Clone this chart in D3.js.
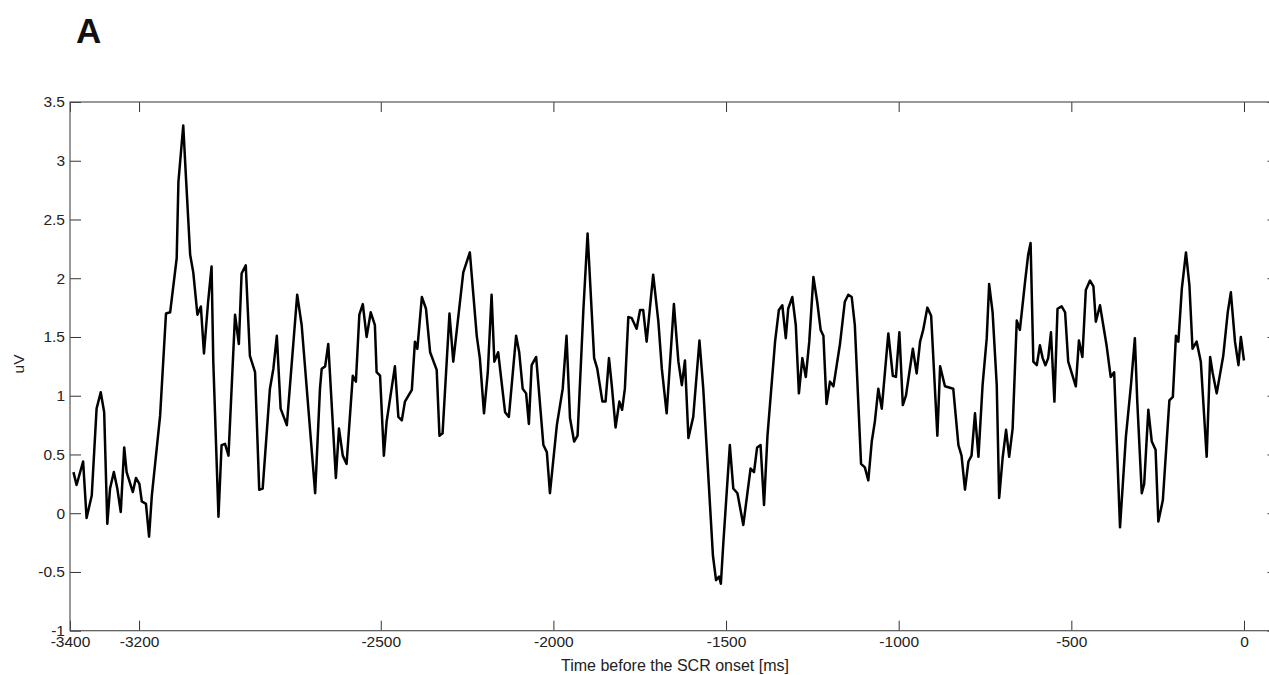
<!DOCTYPE html>
<html>
<head>
<meta charset="utf-8">
<script src="https://cdn.jsdelivr.net/npm/d3@7"></script>
<style>
  body { margin: 0; background: #fff; }
  svg { display: block; font-family: "Liberation Sans", Arial, sans-serif; }
</style>
</head>
<body>
<script>
// chart size
var w = 1269;
var h = 675;

// time (ms before SCR onset) and mean amplitude (uV)
var times = [
  -3390, -3381, -3362, -3352, -3337, -3323, -3311, -3301, -3292, -3284,
  -3273, -3263, -3253, -3243, -3236, -3218, -3209, -3199, -3192, -3180,
  -3171, -3163, -3139, -3122, -3110, -3091, -3086, -3072, -3064, -3052,
  -3043, -3031, -3021, -3012, -3000, -2990, -2985, -2970, -2961, -2951,
  -2941, -2922, -2911, -2903, -2891, -2879, -2864, -2852, -2842, -2821,
  -2811, -2801, -2790, -2772, -2742, -2729, -2690, -2676, -2671, -2661,
  -2652, -2630, -2621, -2610, -2599, -2581, -2572, -2562, -2552, -2541,
  -2529, -2517, -2512, -2502, -2491, -2483, -2459, -2449, -2439, -2430,
  -2410, -2401, -2394, -2381, -2369, -2357, -2338, -2330, -2321, -2301,
  -2290, -2261, -2242, -2222, -2213, -2201, -2190, -2179, -2171, -2160,
  -2140, -2129, -2108, -2099, -2089, -2079, -2071, -2063, -2050, -2029,
  -2019, -2010, -1990, -1973, -1962, -1952, -1940, -1930, -1913, -1901,
  -1889, -1882, -1873, -1858, -1849, -1839, -1831, -1820, -1809, -1801,
  -1793, -1783, -1773, -1759, -1749, -1740, -1730, -1711, -1696, -1686,
  -1672, -1651, -1638, -1628, -1619, -1609, -1595, -1577, -1566, -1538,
  -1529, -1520, -1515, -1508, -1489, -1479, -1467, -1450, -1429, -1419,
  -1410, -1400, -1390, -1380, -1358, -1347, -1337, -1327, -1320, -1308,
  -1298, -1289, -1279, -1269, -1259, -1247, -1236, -1226, -1218, -1209,
  -1199, -1189, -1170, -1156, -1146, -1136, -1127, -1109, -1098, -1088,
  -1078, -1069, -1059, -1049, -1030, -1017, -1008, -998, -988, -979,
  -959, -948, -938, -929, -917, -906, -888, -880, -866, -842,
  -827, -818, -808, -798, -789, -779, -769, -757, -745, -738,
  -728, -716, -709, -699, -689, -680, -670, -658, -649, -634,
  -625, -618, -610, -600, -591, -583, -575, -567, -559, -549,
  -540, -528, -518, -509, -487, -478, -468, -458, -446, -436,
  -429, -417, -398, -386, -376, -359, -342, -327, -316, -309,
  -296, -289, -277, -267, -256, -248, -235, -216, -206, -197,
  -190, -180, -168, -158, -149, -137, -125, -108, -98, -91,
  -79, -60, -47, -38, -26, -16, -9, 0
];

var amplitude = [
  0.35, 0.24, 0.44, -0.04, 0.15, 0.89, 1.03, 0.86, -0.09, 0.21,
  0.35, 0.21, 0.01, 0.56, 0.35, 0.18, 0.30, 0.25, 0.10, 0.08,
  -0.20, 0.15, 0.83, 1.70, 1.71, 2.17, 2.82, 3.30, 2.85, 2.20,
  2.05, 1.69, 1.76, 1.36, 1.80, 2.10, 1.29, -0.03, 0.58, 0.59,
  0.49, 1.69, 1.44, 2.04, 2.11, 1.34, 1.20, 0.20, 0.21, 1.06,
  1.23, 1.51, 0.89, 0.75, 1.86, 1.60, 0.17, 1.06, 1.23, 1.25,
  1.44, 0.30, 0.72, 0.49, 0.42, 1.17, 1.12, 1.69, 1.78, 1.50,
  1.71, 1.60, 1.20, 1.17, 0.49, 0.78, 1.25, 0.82, 0.79, 0.95,
  1.05, 1.46, 1.40, 1.84, 1.74, 1.37, 1.22, 0.66, 0.68, 1.70,
  1.29, 2.05, 2.22, 1.51, 1.32, 0.85, 1.20, 1.86, 1.29, 1.37,
  0.86, 0.82, 1.51, 1.37, 1.06, 1.02, 0.76, 1.26, 1.33, 0.58,
  0.52, 0.17, 0.75, 1.06, 1.51, 0.81, 0.61, 0.66, 1.74, 2.38,
  1.71, 1.32, 1.23, 0.95, 0.95, 1.32, 1.09, 0.73, 0.95, 0.88,
  1.06, 1.67, 1.66, 1.57, 1.73, 1.73, 1.46, 2.03, 1.63, 1.23,
  0.85, 1.78, 1.29, 1.09, 1.30, 0.64, 0.82, 1.47, 1.06, -0.36,
  -0.57, -0.54, -0.60, -0.26, 0.58, 0.21, 0.17, -0.10, 0.38, 0.35,
  0.56, 0.58, 0.07, 0.66, 1.46, 1.73, 1.77, 1.49, 1.74, 1.84,
  1.60, 1.02, 1.32, 1.16, 1.46, 2.01, 1.80, 1.56, 1.51, 0.93,
  1.12, 1.08, 1.44, 1.80, 1.86, 1.84, 1.60, 0.42, 0.39, 0.28,
  0.61, 0.78, 1.06, 0.89, 1.53, 1.17, 1.16, 1.54, 0.92, 1.00,
  1.40, 1.19, 1.46, 1.56, 1.75, 1.68, 0.66, 1.25, 1.08, 1.06,
  0.58, 0.49, 0.20, 0.44, 0.49, 0.85, 0.48, 1.09, 1.49, 1.95,
  1.71, 1.09, 0.13, 0.47, 0.71, 0.48, 0.72, 1.64, 1.56, 1.97,
  2.20, 2.30, 1.29, 1.26, 1.43, 1.32, 1.26, 1.32, 1.54, 0.95,
  1.74, 1.76, 1.71, 1.29, 1.08, 1.47, 1.33, 1.90, 1.98, 1.93,
  1.63, 1.77, 1.43, 1.16, 1.20, -0.12, 0.65, 1.10, 1.49, 0.95,
  0.17, 0.25, 0.88, 0.61, 0.54, -0.07, 0.11, 0.96, 0.99, 1.51,
  1.46, 1.91, 2.22, 1.94, 1.40, 1.46, 1.29, 0.48, 1.33, 1.20,
  1.02, 1.34, 1.71, 1.88, 1.46, 1.26, 1.50, 1.30
];

var xTicks = [-3400, -3200, -2500, -2000, -1500, -1000, -500, 0];
var yTicks = [-1, -0.5, 0, 0.5, 1, 1.5, 2, 2.5, 3, 3.5];

// plot box (right edge sits just past the picture, as in the figure)
var boxLeft = 70, boxTop = 102, boxRight = 1278.5, boxBottom = 630.7;

var xScale = d3.scaleLinear().domain([-3400, 100]).range([boxLeft, boxRight]);
var yScale = d3.scaleLinear().domain([-1, 3.5]).range([boxBottom, boxTop]);

var svg = d3.select("body")
            .append("svg")
            .attr("width", w)
            .attr("height", h);

// panel letter
svg.append("text")
    .attr("x", 76)
    .attr("y", 43)
    .attr("font-size", "35px")
    .attr("font-weight", "bold")
    .attr("fill", "#111")
    .text("A");

// bottom axis with labels, ticks pointing inwards
svg.append("g")
    .attr("transform", "translate(0," + boxBottom + ")")
    .call(d3.axisBottom(xScale)
        .tickValues(xTicks)
        .tickSizeInner(-10)
        .tickSizeOuter(0)
        .tickPadding(5)
        .tickFormat(function(d) { return String(d); }));

// left axis
svg.append("g")
    .attr("transform", "translate(" + boxLeft + ",0)")
    .call(d3.axisLeft(yScale)
        .tickValues(yTicks)
        .tickSizeInner(-11)
        .tickSizeOuter(0)
        .tickPadding(5)
        .tickFormat(function(d) { return String(d); }));

// mirrored ticks on top and right, no labels
svg.append("g")
    .attr("transform", "translate(0," + boxTop + ")")
    .call(d3.axisTop(xScale).tickValues(xTicks).tickSizeInner(-10).tickSizeOuter(0).tickFormat(""));
svg.append("g")
    .attr("transform", "translate(" + boxRight + ",0)")
    .call(d3.axisRight(yScale).tickValues(yTicks).tickSizeInner(-11).tickSizeOuter(0).tickFormat(""));

svg.selectAll(".domain").remove();
svg.selectAll(".tick line").attr("stroke", "#333").attr("stroke-width", 1);
svg.selectAll(".tick text")
    .attr("font-size", "15.5px")
    .attr("font-family", "'Liberation Sans', Arial, sans-serif")
    .attr("fill", "#222");

// box round the plot
svg.append("rect")
    .attr("x", boxLeft)
    .attr("y", boxTop)
    .attr("width", boxRight - boxLeft)
    .attr("height", boxBottom - boxTop)
    .attr("fill", "none")
    .attr("stroke", "#555")
    .attr("stroke-width", 1.2);

// the averaged trace
var line = d3.line()
    .x(function(d, i) { return xScale(times[i]); })
    .y(function(d) { return yScale(d); });

svg.append("path")
    .datum(amplitude)
    .attr("d", line)
    .attr("fill", "none")
    .attr("stroke", "#000")
    .attr("stroke-width", 2.5)
    .attr("stroke-linejoin", "round");

// axis labels
svg.append("text")
    .attr("x", 675)
    .attr("y", 671)
    .attr("text-anchor", "middle")
    .attr("font-size", "16px")
    .attr("fill", "#222")
    .text("Time before the SCR onset [ms]");

svg.append("text")
    .attr("transform", "translate(24,364) rotate(-90)")
    .attr("text-anchor", "middle")
    .attr("font-size", "15.5px")
    .attr("fill", "#222")
    .text("uV");
</script>
</body>
</html>
